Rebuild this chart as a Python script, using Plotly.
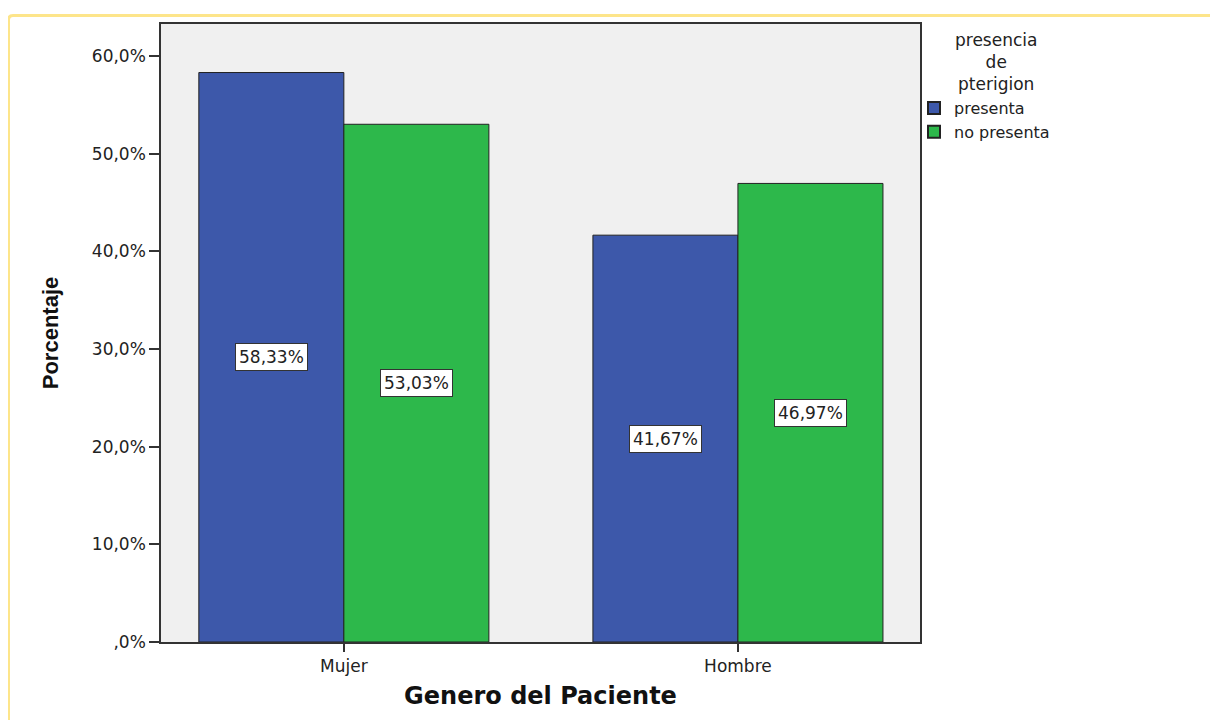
import plotly.graph_objects as go

categories = ["Mujer", "Hombre"]
presenta = [58.33, 41.67]
no_presenta = [53.03, 46.97]
series_names = ["presenta", "no presenta"]
label_presenta = ["58,33%", "41,67%"]
label_no_presenta = ["53,03%", "46,97%"]
y_tick_vals = [0, 10, 20, 30, 40, 50, 60]
y_tick_text = [",0%", "10,0%", "20,0%", "30,0%", "40,0%", "50,0%", "60,0%"]
legend_title = "presencia<br>de<br>pterigion"

BLUE = "#3d58aa"
GREEN = "#2db84b"
FONT = "DejaVu Sans"
BARGAP = 0.264

# page has 8px body margin, so figure origin is at (8, 8) of the screenshot
FW, FH = 1210, 712
L, T = 161 - 8, 24 - 8
R = FW - (920 - 8)
B = FH - (642 - 8)
W, H = FW - L - R, FH - T - B

def px(xs):  # screenshot x -> paper
    return (xs - 8 - L) / W
def py(ys):  # screenshot y -> paper
    return (FH - B - (ys - 8)) / H

fig = go.Figure()
fig.add_trace(go.Bar(x=categories, y=presenta, name=series_names[0],
                     marker=dict(color=BLUE, line=dict(color="#222222", width=1))))
fig.add_trace(go.Bar(x=categories, y=no_presenta, name=series_names[1],
                     marker=dict(color=GREEN, line=dict(color="#222222", width=1))))

half = (1 - BARGAP) / 4
annotations = []
for i, cat in enumerate(categories):
    for off, vals, labs in [(-half, presenta, label_presenta), (half, no_presenta, label_no_presenta)]:
        annotations.append(dict(
            x=i + off, y=vals[i] / 2, xref="x", yref="y", text=labs[i], showarrow=False,
            font=dict(family=FONT, size=17, color="#222222"),
            bgcolor="white", bordercolor="#333333", borderwidth=1, borderpad=3,
        ))
annotations.append(dict(
    x=px(996), y=py(62), xref="paper", yref="paper", text=legend_title, showarrow=False,
    xanchor="center", yanchor="middle", align="center",
    font=dict(family=FONT, size=17, color="#222222"),
))

shapes = [dict(type="path", xref="paper", yref="paper",
               path=f"M {px(8.5)},{py(730)} L {px(8.5)},{py(20)} Q {px(8.5)},{py(15.5)} {px(13)},{py(15.5)} L {px(1230)},{py(15.5)}",
               line=dict(color="#fde58a", width=3), layer="below")]

fig.update_layout(
    width=FW, height=FH,
    margin=dict(l=L, r=R, t=T, b=B, autoexpand=False),
    paper_bgcolor="white", plot_bgcolor="#f0f0f0",
    barmode="group", bargap=BARGAP, bargroupgap=0,
    font=dict(family=FONT, size=15, color="#222222"),
    xaxis=dict(type="category", range=[-0.464, 1.462], showline=True, linecolor="#333333", linewidth=1.5,
               mirror=True, ticks="outside", ticklen=8, tickcolor="#333333", tickwidth=1.5,
               tickfont=dict(family=FONT, size=17, color="#222222"), showgrid=False,
               title=dict(text="<b>Genero del Paciente</b>", font=dict(family=FONT, size=24, color="#111111"), standoff=12)),
    yaxis=dict(range=[0, 63.3], tickvals=y_tick_vals, ticktext=y_tick_text, showline=True, linecolor="#333333",
               linewidth=1.5, mirror=True, ticks="outside", ticklen=10, tickcolor="#333333", tickwidth=1.5,
               tickfont=dict(family=FONT, size=17, color="#222222"), showgrid=False, zeroline=False,
               title=dict(text="<b>Porcentaje</b>", font=dict(family="Liberation Sans Narrow, Liberation Sans, Arial", size=22, color="#111111"), standoff=27)),
    legend=dict(x=px(914), y=py(91), xanchor="left", yanchor="top", bgcolor="rgba(0,0,0,0)",
                font=dict(family=FONT, size=16), itemsizing="constant", tracegroupgap=0),
    annotations=annotations,
    shapes=shapes,
    showlegend=True,
)

fig.write_html("out.html")
